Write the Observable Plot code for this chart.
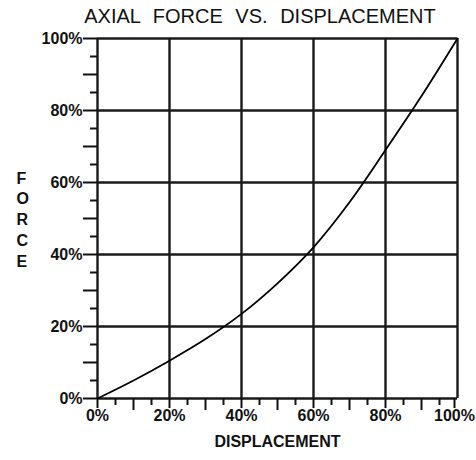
<!DOCTYPE html>
<html><head><meta charset="utf-8">
<script src="https://cdn.jsdelivr.net/npm/d3@7"></script>
<script src="https://cdn.jsdelivr.net/npm/@observablehq/plot@0.6"></script>
<style>
body{margin:0;background:#fff;width:476px;height:460px;overflow:hidden;position:relative;font-family:"Liberation Sans Narrow","Liberation Sans",Arial,sans-serif;}
#title{position:absolute;left:0;top:4px;width:520px;text-align:center;font-size:20px;word-spacing:7px;color:#111;line-height:24px;white-space:nowrap;}
#chart{position:absolute;left:0;top:30px;}
#chart svg text{font-family:"Liberation Sans Narrow","Liberation Sans",Arial,sans-serif;font-weight:bold;}
</style></head>
<body>
<div id="title"></div>
<div id="chart"></div>
<script>
const title = "AXIAL FORCE VS. DISPLACEMENT";
const xLabel = "DISPLACEMENT";
const yLabel = "FORCE";
const displacement = [0, 10, 20, 30, 40, 50, 60, 70, 80, 90, 100];
const force        = [0, 5, 10.5, 16.5, 23.5, 32, 42, 54.5, 69, 84, 100];
const majorTicks = [0, 20, 40, 60, 80, 100];
const tenTicks = [10, 30, 50, 70, 90];
const fiveTicks = [5, 15, 25, 35, 45, 55, 65, 75, 85, 95];

document.getElementById("title").textContent = title;
const data = displacement.map((d, i) => ({x: d, y: force[i]}));
const fmt = d => d + "%";
const innerX = majorTicks.slice(0, -1);
const lastX = majorTicks.slice(-1);

const chart = Plot.plot({
  width: 476, height: 430,
  marginLeft: 97, marginRight: 19, marginTop: 8, marginBottom: 62,
  x: {domain: [0, 100]},
  y: {domain: [0, 100]},
  style: {fontSize: "16px", color: "#111", background: "#fff"},
  marks: [
    Plot.ruleX(majorTicks, {stroke: "#1a1a1a", strokeWidth: 2.4}),
    Plot.ruleY(majorTicks, {stroke: "#1a1a1a", strokeWidth: 2.4}),
    Plot.axisY(fiveTicks, {tickSize: 7, text: null, label: null, strokeWidth: 2, stroke: "#111"}),
    Plot.axisY(tenTicks, {tickSize: 14, text: null, label: null, strokeWidth: 2, stroke: "#111"}),
    Plot.axisY(majorTicks, {tickSize: 14, tickPadding: 1, tickFormat: fmt, strokeWidth: 2, stroke: "#111", fill: "#111", label: null}),
    Plot.axisX(fiveTicks, {tickSize: 7, text: null, label: null, strokeWidth: 2, stroke: "#111"}),
    Plot.axisX(tenTicks, {tickSize: 12, text: null, label: null, strokeWidth: 2, stroke: "#111"}),
    Plot.axisX(innerX, {tickSize: 10, tickPadding: 1, tickFormat: fmt, strokeWidth: 2, stroke: "#111", fill: "#111", label: null}),
    Plot.axisX(lastX, {tickSize: 10, tickPadding: 1, tickFormat: fmt, strokeWidth: 2, stroke: "#111", fill: "#111", label: null, dx: -3}),
    Plot.text([xLabel], {frameAnchor: "bottom", dy: 48, fontSize: 16, fill: "#111"}),
    Plot.text([yLabel], {frameAnchor: "left", dx: -81, text: d => d.split("").join("\n"), lineHeight: 1.3, fontSize: 16, fill: "#111"}),
    Plot.line(data, {x: "x", y: "y", curve: "catmull-rom", stroke: "#000", strokeWidth: 1.8})
  ]
});
document.getElementById("chart").appendChild(chart);
</script>
</body></html>
